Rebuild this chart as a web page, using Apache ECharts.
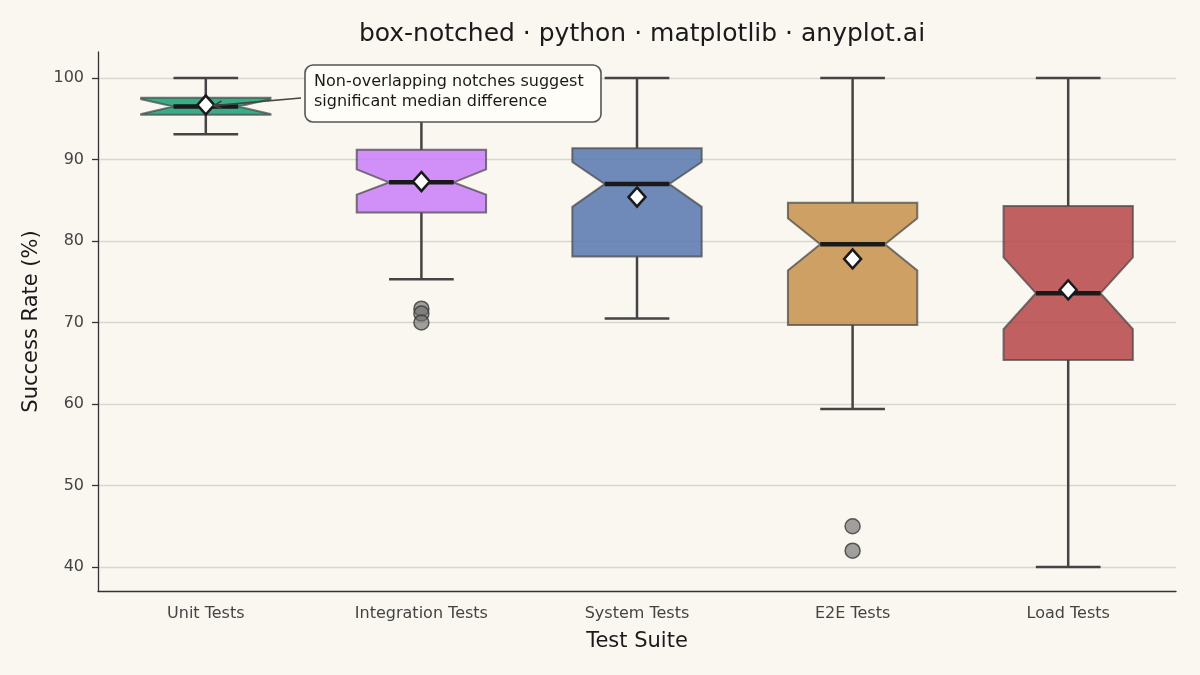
<!DOCTYPE html>
<html>
<head>
<meta charset="utf-8">
<title>box-notched</title>
<script src="https://cdn.jsdelivr.net/npm/echarts@6/dist/echarts.min.js"></script>
<style>
  html, body { margin: 0; padding: 0; background: #faf7f1; }
  #chart { width: 1200px; height: 675px; }
</style>
</head>
<body>
<div id="chart"></div>
<script>
// test suites and their box statistics
const suites = ['Unit Tests', 'Integration Tests', 'System Tests', 'E2E Tests', 'Load Tests'];
const whiskerLow = [93.1, 75.3, 70.5, 59.4, 40.0];
const q1 = [95.5, 83.5, 78.1, 69.7, 65.4];
const notchLow = [95.6, 85.7, 84.2, 76.4, 69.2];
const median = [96.5, 87.2, 87.0, 79.6, 73.6];
const notchHigh = [97.4, 88.8, 89.7, 82.8, 78.0];
const q3 = [97.6, 91.2, 91.4, 84.7, 84.3];
const whiskerHigh = [100, 100, 100, 100, 100];
const means = [96.7, 87.3, 85.4, 77.8, 74.0];
// outliers: [suite index, value]
const outliers = [[1, 71.7], [1, 71.1], [1, 70.0], [3, 45.0], [3, 42.0]];
const yTicks = [40, 50, 60, 70, 80, 90, 100];

const boxColors = ['#18a075', '#c97df9', '#5677af', '#c5914a', '#b64546'];
const BG = '#faf7f1';

var chart = echarts.init(document.getElementById('chart'), null, { renderer: 'canvas' });

// one row per box: index, whisker low, q1, notch low, median, notch high, q3, whisker high
var boxData = suites.map(function (s, i) {
    return [i, whiskerLow[i], q1[i], notchLow[i], median[i], notchHigh[i], q3[i], whiskerHigh[i]];
});

function renderBox(params, api) {
    var i = api.value(0);
    var band = api.size([1, 0])[0];
    var w = band * 0.6;
    var cx = api.coord([i, 0])[0];
    var y = function (k) { return api.coord([i, api.value(k)])[1]; };
    var yWl = y(1), yQ1 = y(2), yNl = y(3), yMed = y(4), yNh = y(5), yQ3 = y(6), yWh = y(7);
    var L = cx - w / 2, R = cx + w / 2, nl = cx - w / 4, nr = cx + w / 4;
    var capL = cx - w / 4, capR = cx + w / 4;
    var whiskerStyle = { stroke: '#444444', lineWidth: 2.5 };
    return {
        type: 'group',
        children: [
            {
                type: 'polygon',
                shape: {
                    points: [[L, yQ1], [L, yNl], [nl, yMed], [L, yNh], [L, yQ3],
                             [R, yQ3], [R, yNh], [nr, yMed], [R, yNl], [R, yQ1]]
                },
                style: { fill: boxColors[i], opacity: 0.85, stroke: 'rgba(70,70,70,0.85)', lineWidth: 2 }
            },
            { type: 'line', shape: { x1: cx, y1: yQ1, x2: cx, y2: yWl }, style: whiskerStyle },
            { type: 'line', shape: { x1: cx, y1: yQ3, x2: cx, y2: yWh }, style: whiskerStyle },
            { type: 'line', shape: { x1: capL, y1: yWl, x2: capR, y2: yWl }, style: whiskerStyle },
            { type: 'line', shape: { x1: capL, y1: yWh, x2: capR, y2: yWh }, style: whiskerStyle },
            { type: 'line', shape: { x1: nl, y1: yMed, x2: nr, y2: yMed }, style: { stroke: '#1a1a1a', lineWidth: 4.5 } }
        ]
    };
}

option = {
    backgroundColor: BG,
    animation: false,
    title: {
        text: 'box-notched · python · matplotlib · anyplot.ai',
        left: 637,
        textAlign: 'center',
        top: 17,
        textStyle: { fontFamily: 'DejaVu Sans', fontSize: 25, fontWeight: 'normal', color: '#1a1a1a' }
    },
    grid: { left: 98, right: 24, top: 52, bottom: 84 },
    xAxis: {
        type: 'category',
        data: suites,
        boundaryGap: true,
        name: 'Test Suite',
        nameLocation: 'middle',
        nameGap: 40,
        nameTextStyle: { fontFamily: 'DejaVu Sans', fontSize: 21, color: '#1a1a1a' },
        axisLine: { lineStyle: { color: '#333333', width: 1.3 } },
        axisTick: { alignWithLabel: true, length: 6, lineStyle: { color: '#333333', width: 1.3 } },
        axisLabel: { fontFamily: 'DejaVu Sans', fontSize: 16, color: '#444444', margin: 15 },
        splitLine: { show: false }
    },
    yAxis: {
        type: 'value',
        min: 37.05,
        max: 103.2,
        splitNumber: 6,
        name: 'Success Rate (%)',
        nameLocation: 'middle',
        nameGap: 56,
        nameTextStyle: { fontFamily: 'DejaVu Sans', fontSize: 21, color: '#1a1a1a' },
        axisLine: { show: true, lineStyle: { color: '#333333', width: 1.3 } },
        axisTick: { show: true, length: 6, customValues: yTicks, lineStyle: { color: '#333333', width: 1.3 } },
        axisLabel: { fontFamily: 'DejaVu Sans', fontSize: 16, color: '#444444', margin: 14,
                     customValues: yTicks },
        splitLine: { show: true, lineStyle: { color: '#d9d6cf', width: 1.3 } }
    },
    series: [
        {
            type: 'custom',
            name: 'boxes',
            renderItem: renderBox,
            encode: { x: 0, y: [1, 2, 3, 4, 5, 6, 7] },
            data: boxData,
            z: 2
        },
        {
            type: 'scatter',
            name: 'outliers',
            data: outliers,
            symbol: 'circle',
            symbolSize: 15,
            itemStyle: { color: 'rgba(110,110,108,0.8)', borderColor: '#3a3a3a', borderWidth: 1.5 },
            z: 4
        },
        {
            type: 'scatter',
            name: 'mean',
            data: means.map(function (m, i) { return [i, m]; }),
            symbol: 'diamond',
            symbolSize: [17, 19],
            itemStyle: { color: '#ffffff', borderColor: '#1a1a1a', borderWidth: 2.5, opacity: 1 },
            z: 5
        }
    ]
};
chart.setOption(option);

// annotation: text box plus arrow pointing to the Unit Tests median
var tip = chart.convertToPixel({ gridIndex: 0 }, [0, median[0]]);
var boxLeft = 305, boxTop = 65, boxW = 296, boxH = 57;
var ax = boxLeft - 4, ay = boxTop + 33;
var ex = tip[0] + 8, ey = tip[1] - 1;
var ang = Math.atan2(ey - ay, ex - ax);
var hl = 9;
chart.setOption({
    graphic: [
        {
            type: 'rect', z: 20,
            shape: { x: boxLeft, y: boxTop, width: boxW, height: boxH, r: 8 },
            style: { fill: '#fffdf8', stroke: '#555555', lineWidth: 1.6 }
        },
        {
            type: 'text', z: 21, left: boxLeft + 9, top: boxTop + 7,
            style: {
                text: 'Non-overlapping notches suggest\nsignificant median difference',
                font: '16px "DejaVu Sans"', fill: '#1a1a1a', lineHeight: 20
            }
        },
        {
            type: 'line', z: 20,
            shape: { x1: ax, y1: ay, x2: ex, y2: ey },
            style: { stroke: '#444444', lineWidth: 1.6 }
        },
        {
            type: 'polyline', z: 20,
            shape: { points: [
                [ex - hl * Math.cos(ang - 0.45), ey - hl * Math.sin(ang - 0.45)],
                [ex, ey],
                [ex - hl * Math.cos(ang + 0.45), ey - hl * Math.sin(ang + 0.45)]
            ] },
            style: { stroke: '#444444', lineWidth: 1.6, fill: null }
        }
    ]
});

window.onresize = function () {
    chart.resize();
};
</script>
</body>
</html>
